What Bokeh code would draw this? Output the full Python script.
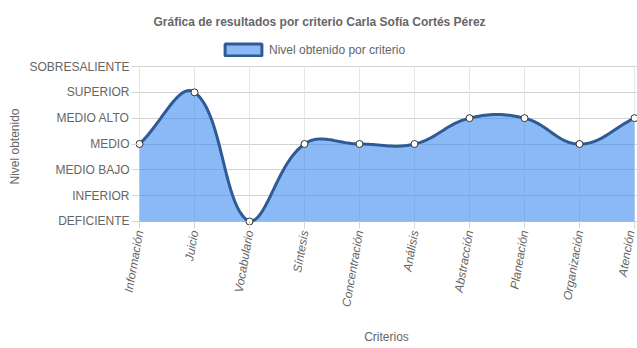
import math
import numpy as np
from bokeh.plotting import figure
from bokeh.models import FixedTicker, Legend, LegendItem, Range1d, Title
from bokeh.embed import file_html
from bokeh.resources import INLINE

# ---------------- data ----------------
titulo = "Gráfica de resultados por criterio Carla Sofía Cortés Pérez"
serie = "Nivel obtenido por criterio"
titulo_y = "Nivel obtenido"
titulo_x = "Criterios"
criterios = ["Información", "Juicio", "Vocabulario", "Síntesis", "Concentración",
             "Análisis", "Abstracción", "Planeación", "Organización", "Atención"]
niveles = ["DEFICIENTE", "INFERIOR", "MEDIO BAJO", "MEDIO", "MEDIO ALTO",
           "SUPERIOR", "SOBRESALIENTE"]
valores = [3, 5, 0, 3, 3, 3, 4, 4, 3, 4]

# ---------------- layout ----------------
W, H = 637, 348
XS = 55.11   # px per category step
YS = 25.83   # px per level step
PADL, PADR, PADB, PADT = 4, 3, 4, 26
F_LEFT, F_TOP = 138 - PADL, 66 - PADT
F_BOTTOM = 221 + PADB
n = len(criterios)
top = len(niveles) - 1
x0, x1 = -PADL / XS, (n - 1) + PADR / XS
y0, y1 = -PADB / YS, top + PADT / YS

FONT = "Liberation Sans"
GREY = "#666666"
LINE = "#2e5b95"
FILL = "#3c8aee"

p = figure(width=W, height=H, output_backend="svg", toolbar_location=None,
           x_range=Range1d(x0, x1), y_range=Range1d(y0, y1),
           min_border_left=F_LEFT, min_border_right=0, min_border_top=F_TOP,
           min_border_bottom=H - F_BOTTOM)
p.outline_line_color = None
p.background_fill_color = "white"
p.border_fill_color = "white"

# title
p.title.text = titulo
p.title.text_font = FONT
p.title.text_font_size = "12px"
p.title.text_font_style = "bold"
p.title.text_color = GREY
p.title.align = "left"
p.title.offset = 152 - F_LEFT
p.title.standoff = 24

# y-axis title (as a side title so it can be centred on the value area)
ytitle = Title(text=titulo_y, align="left", offset=F_BOTTOM - 184,
               text_font=FONT, text_font_size="12px", text_font_style="normal",
               text_color=GREY, standoff=10)
p.add_layout(ytitle, "left")

# vertical grid lines only across the value area
ticks_x = list(range(n))
p.segment(x0=ticks_x, y0=[0] * n, x1=ticks_x, y1=[top] * n,
          line_color="#e6e6e6", line_width=1)

# ---------------- smooth curve (Chart.js style spline, tension 0.4) ----------------
pts = np.array([[i * XS, v * YS] for i, v in enumerate(valores)], dtype=float)
Wpx, Hpx = (n - 1) * XS, top * YS
t = 0.4
cp_prev, cp_next = [], []
for i in range(n):
    cur = pts[i]
    prv = pts[i - 1] if i > 0 else cur
    nxt = pts[i + 1] if i < n - 1 else cur
    d01 = np.hypot(*(cur - prv))
    d12 = np.hypot(*(nxt - cur))
    s = d01 + d12
    s01 = d01 / s if s else 0.0
    s12 = d12 / s if s else 0.0
    fa, fb = t * s01, t * s12
    a = cur - fa * (nxt - prv)
    b = cur + fb * (nxt - prv)
    a = np.array([min(max(a[0], 0), Wpx), min(max(a[1], 0), Hpx)])
    b = np.array([min(max(b[0], 0), Wpx), min(max(b[1], 0), Hpx)])
    cp_prev.append(a)
    cp_next.append(b)

cx, cy = [], []
tt = np.linspace(0, 1, 40)
for i in range(n - 1):
    P0, P1, P2, P3 = pts[i], cp_next[i], cp_prev[i + 1], pts[i + 1]
    for u in (tt if i == 0 else tt[1:]):
        q = ((1 - u) ** 3) * P0 + 3 * ((1 - u) ** 2) * u * P1 + 3 * (1 - u) * u * u * P2 + u ** 3 * P3
        cx.append(q[0] / XS)
        cy.append(q[1] / YS)

px = [cx[0]] + cx + [cx[-1]]
py = [0] + cy + [0]
p.patch(px, py, fill_color=FILL, fill_alpha=0.6, line_color=None)
p.line(cx, cy, line_color=LINE, line_width=3, line_join="round")
p.scatter(list(range(n)), valores, size=7, fill_color="white",
          line_color="#333333", line_width=1)

# legend proxy (no visible mark in the plot area)
nan = float("nan")
proxy = p.quad(left=[nan], right=[nan], top=[nan], bottom=[nan], fill_color=FILL,
               fill_alpha=0.6, line_color=LINE, line_width=3)
legend = Legend(items=[LegendItem(label=serie, renderers=[proxy])],
                location=(219 - F_LEFT, F_BOTTOM - 57), orientation="horizontal",
                glyph_width=46, glyph_height=15, label_standoff=3, label_height=15,
                label_text_font=FONT, label_text_font_size="12px",
                label_text_color=GREY, padding=0, margin=0, spacing=0,
                border_line_color=None, background_fill_alpha=0)
p.add_layout(legend, "center")

# ---------------- axes ----------------
p.xaxis.ticker = FixedTicker(ticks=ticks_x)
p.xaxis.major_label_overrides = {i: c for i, c in enumerate(criterios)}
p.xaxis.major_label_orientation = math.radians(80)
p.xaxis.major_label_text_font_style = "italic"
p.xaxis.major_tick_in = PADB
p.xaxis.major_tick_out = 3
p.xaxis.major_label_standoff = 2
p.xaxis.axis_label = titulo_x
p.xaxis.axis_label_standoff = 18

p.yaxis.ticker = FixedTicker(ticks=list(range(len(niveles))))
p.yaxis.major_label_overrides = {i: c for i, c in enumerate(niveles)}
p.yaxis.major_tick_in = PADL
p.yaxis.major_tick_out = 4
p.yaxis.major_label_standoff = 2

for ax in (p.xaxis, p.yaxis):
    ax.axis_line_color = None
    ax.major_tick_line_color = "#d6d6d6"
    ax.minor_tick_line_color = None
    ax.major_label_text_font = FONT
    ax.major_label_text_font_size = "12px"
    ax.major_label_text_color = GREY
    ax.axis_label_text_font = FONT
    ax.axis_label_text_font_size = "12px"
    ax.axis_label_text_font_style = "normal"
    ax.axis_label_text_color = GREY

p.xgrid.visible = False
p.ygrid.ticker = FixedTicker(ticks=list(range(len(niveles))))
p.ygrid.grid_line_color = "#d2d2d2"

open("out.html", "w").write(file_html(p, INLINE))
